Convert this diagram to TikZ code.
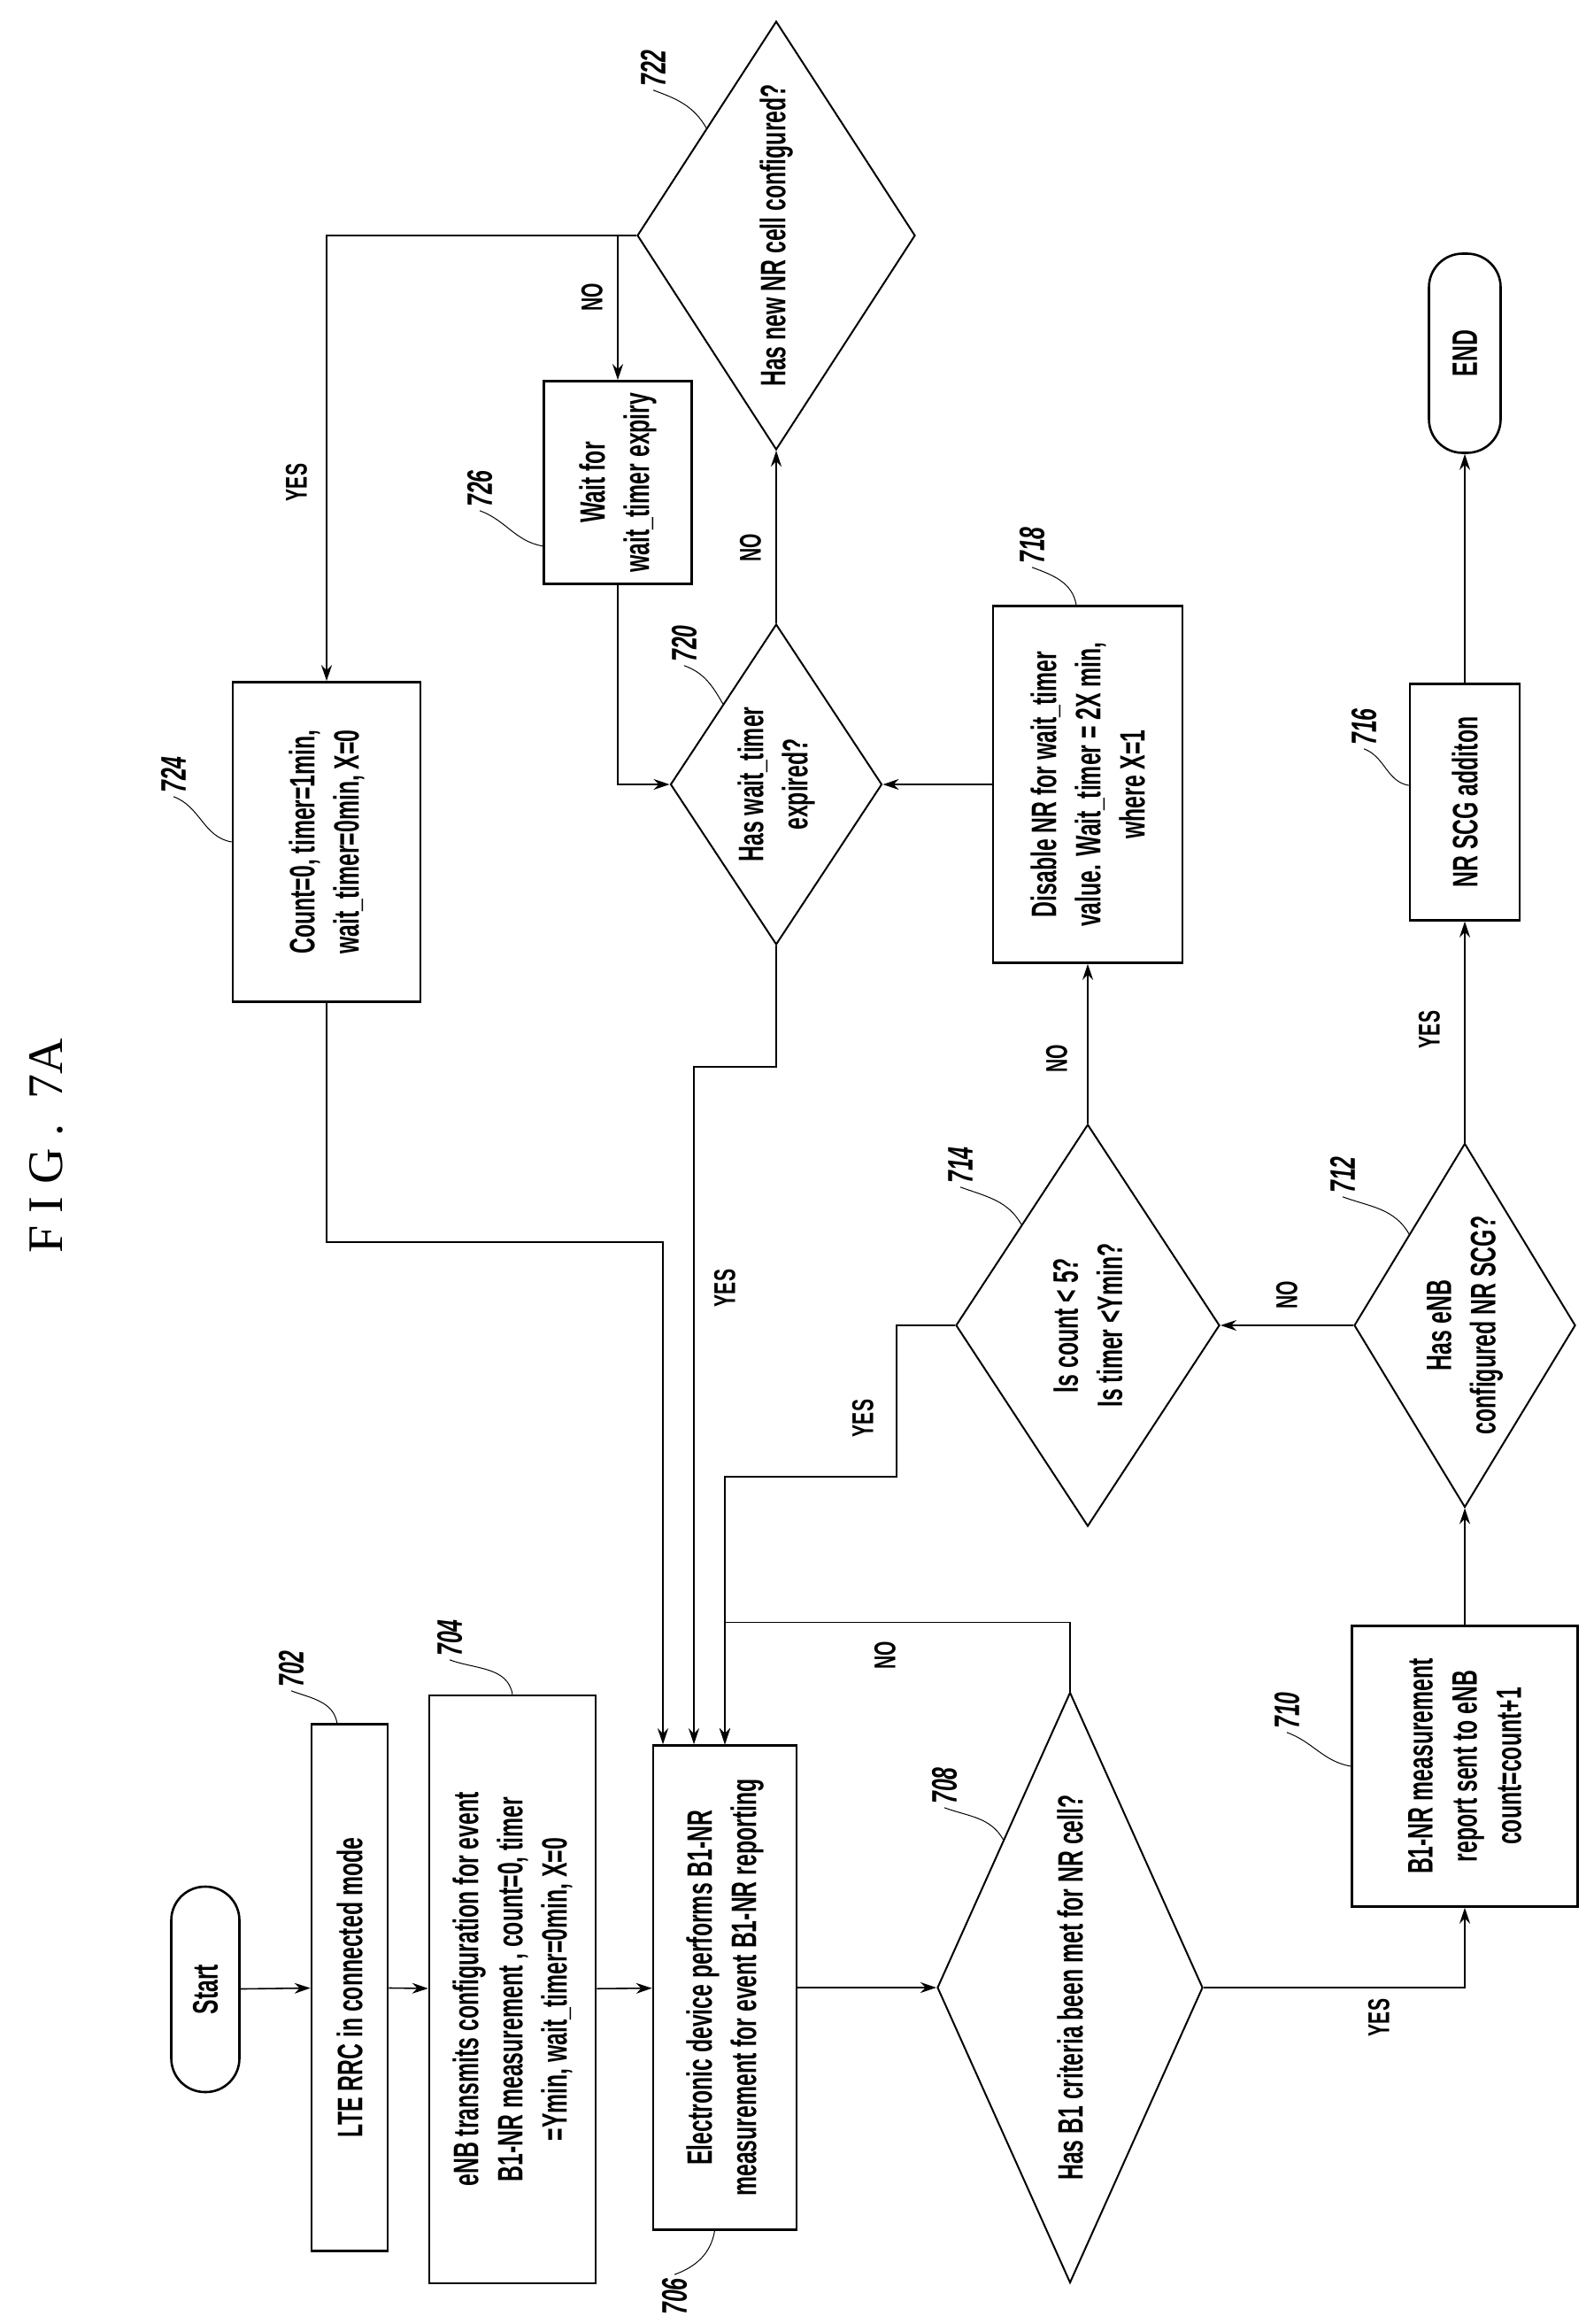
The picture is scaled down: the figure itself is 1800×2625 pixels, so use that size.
\documentclass[tikz,border=0pt]{standalone}
\usepackage{fontspec}
\newfontfamily\flowfont{Liberation Sans}[FakeStretch=0.62]
\newfontfamily\figfont{Liberation Serif}
\usetikzlibrary{
  arrows.meta,
  calc,
  shapes.geometric,
}

\begin{document}
\begin{tikzpicture}[x=1pt,y=1pt,
  font=\flowfont\bfseries\fontsize{40}{50}\selectfont,
  >={Stealth[length=18pt,width=12pt]},
  line width=1.6pt,
  box/.style={draw,line width=2.6pt,rotate=90,align=center,inner sep=4pt},
  term/.style={box,rounded corners=38pt},
  ask/.style={draw,diamond,line width=2pt,rotate=90,align=center,inner sep=0pt},
  ref/.style={rotate=90,font=\flowfont\bfseries\itshape\fontsize{40}{44}\selectfont},
  yn/.style={rotate=90,font=\flowfont\bfseries\fontsize{34}{40}\selectfont},
  lead/.style={line width=1pt}]
  \useasboundingbox (0,0) rectangle (1800,-2625);
  \node[rotate=90,font=\figfont\fontsize{56}{60}\selectfont] at (52,-1294) {F I G .\ \ 7A};
  %%
  \node[term,minimum width=232,minimum height=77](start) at (232,-2247) {Start};
  \node[box,minimum width=595,minimum height=86](b702) at (395,-2245) {LTE RRC in connected mode};
  \node[box,minimum width=664,minimum height=188](b704) at (579,-2247)
    {eNB transmits configuration for event\\B1-NR measurement , count=0, timer\\=Ymin, wait\_timer=0min, X=0};
  \node[box,minimum width=547,minimum height=162](b706) at (819,-2245)
    {Electronic device performs B1-NR\\measurement for event B1-NR reporting};
  \node[ask,aspect=2.2,minimum width=667,minimum height=300](d708) at (1209,-2245)
    {Has B1 criteria been met for NR cell?};
  \node[box,minimum width=317,minimum height=255](b710) at (1655,-1995)
    {B1-NR measurement\\report sent to eNB\\count=count+1};
  \node[ask,aspect=1.65,minimum width=411,minimum height=250](d712) at (1655,-1497)
    {Has eNB\\configured NR SCG?};
  \node[ask,aspect=1.5,minimum width=454,minimum height=298](d714) at (1229,-1497)
    {Is count < 5?\\Is timer <Ymin?};
  \node[box,minimum width=267,minimum height=124](b716) at (1655,-906) {NR SCG additon};
  \node[term,minimum width=225,minimum height=81](end) at (1655,-399) {END};
  \node[box,minimum width=403,minimum height=214](b718) at (1229,-886)
    {Disable NR for wait\_timer\\value. Wait\_timer = 2X min,\\where X=1};
  \node[ask,aspect=1.5,minimum width=362,minimum height=239](d720) at (877,-886)
    {Has wait\_timer\\expired?};
  \node[ask,aspect=1.55,minimum width=484,minimum height=314](d722) at (877,-266)
    {Has new NR cell configured?};
  \node[box,minimum width=229,minimum height=167](b726) at (698,-545)
    {Wait for\\wait\_timer expiry};
  \node[box,minimum width=361,minimum height=212](b724) at (369,-951)
    {Count=0, timer=1min,\\wait\_timer=0min, X=0};
  %%
  \node[ref](r702) at (329,-1885) {702};
  \node[ref](r704) at (508,-1850) {704};
  \node[ref](r706) at (762,-2594) {706};
  \node[ref](r708) at (1067,-2017) {708};
  \node[ref](r710) at (1454,-1932) {710};
  \node[ref](r712) at (1517,-1327) {712};
  \node[ref](r714) at (1085,-1316) {714};
  \node[ref](r716) at (1541,-821) {716};
  \node[ref](r718) at (1166,-616) {718};
  \node[ref](r720) at (773,-727) {720};
  \node[ref](r722) at (738,-77) {722};
  \node[ref](r724) at (196,-875) {724};
  \node[ref](r726) at (542,-552) {726};
  \begin{scope}[lead]
  \draw (r702.west) to[out=-20,in=100] ($(b702.north east)!.34!(b702.south east)$);
  \draw (r704.west) to[out=-20,in=100] (b704.east);
  \draw (r706.east) to[out=20,in=-100] ($(b706.north west)!.43!(b706.south west)$);
  \draw (r708.west) to[out=-20,in=120] ($(d708.north)!.5!(d708.east)$);
  \draw (r710.west) to[out=-20,in=170] (b710.north);
  \draw (r712.west) to[out=-20,in=120] ($(d712.north)!.5!(d712.east)$);
  \draw (r714.west) to[out=-20,in=120] ($(d714.north)!.5!(d714.east)$);
  \draw (r716.west) to[out=-20,in=170] ($(b716.north east)!.43!(b716.north west)$);
  \draw (r718.west) to[out=-20,in=100] ($(b718.north east)!.44!(b718.south east)$);
  \draw (r720.west) to[out=-20,in=120] ($(d720.north)!.5!(d720.east)$);
  \draw (r722.west) to[out=-20,in=120] ($(d722.north)!.5!(d722.east)$);
  \draw (r724.west) to[out=-20,in=170] (b724.north);
  \draw (r726.west) to[out=-20,in=170] ($(b726.north east)!.81!(b726.north west)$);
  \end{scope}
  %%
  \draw[->] (start) -- (b702);
  \draw[->] (b702) -- (b704);
  \draw[->] (b704) -- (b706);
  \draw[->] (b706) -- (d708);
  \draw[->] (d708.south) -| (b710.west);
  \draw[->] (d708.east) -- ++(0,78) -| (b706.east);
  \draw[->] (b710) -- (d712);
  \draw[->] (d712) -- (d714);
  \draw[->] (d712) -- (b716);
  \draw[->] (b716) -- (end);
  \draw[->] (d714) -- (b718);
  \draw[->] (d714.north) -| (1013,-1668) -| (b706.east);
  \draw[->] (b718) -- (d720);
  \draw[->] (d720.west) -- ++(0,-137) -| ($(b706.east)+(-35,0)$);
  \draw[->] (d720) -- (d722);
  \draw[->] (d722.north) -| (b724.east);
  \coordinate (split) at (b726.east |- d722.north);
  \draw[->] (split) -- (b726.east);
  \draw[->] (b726.west) |- (d720.north);
  \draw[->] (b724.west) -- ++(0,-270) -| ($(b706.east)+(-70,0)$);
  %%
  \node[yn] at (1000,-1870) {NO};
  \node[yn] at (1558,-2279) {YES};
  \node[yn] at (1454,-1463) {NO};
  \node[yn] at (1615,-1163) {YES};
  \node[yn] at (1194,-1196) {NO};
  \node[yn] at (975,-1602) {YES};
  \node[yn] at (819,-1455) {YES};
  \node[yn] at (848,-619) {NO};
  \node[yn] at (335,-545) {YES};
  \node[yn] at (669,-336) {NO};
\end{tikzpicture}
\end{document}
